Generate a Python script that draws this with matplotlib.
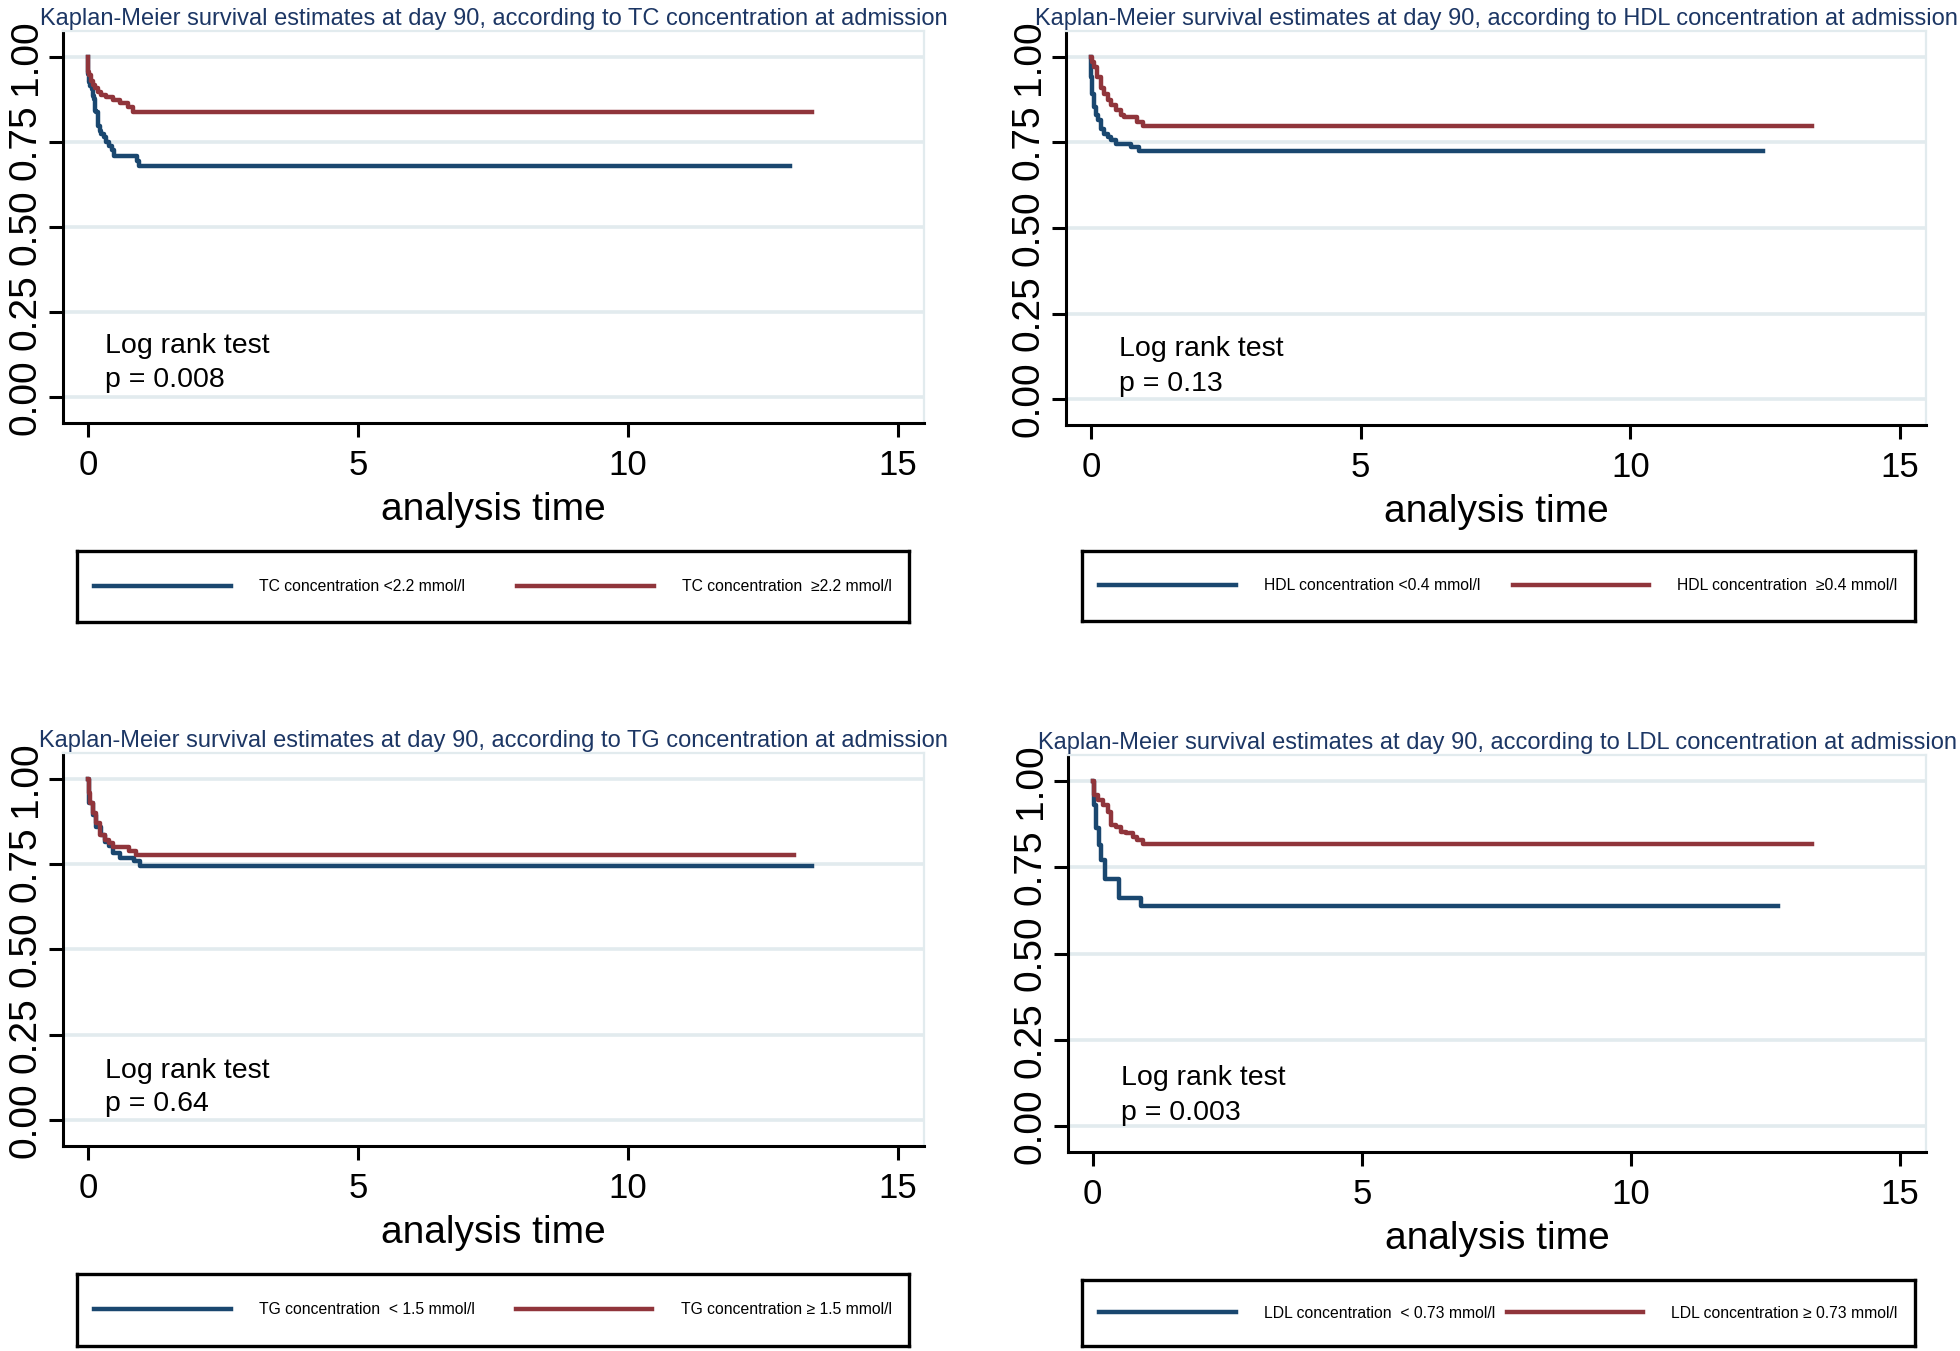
import matplotlib
matplotlib.use("Agg")
import matplotlib.pyplot as plt

plt.rcParams['font.family'] = ['Liberation Sans', 'DejaVu Sans']

navy = "#1a476f"
maroon = "#90353b"
grid_col = "#e2ebee"
title_col = "#1c3664"

# panel texts
titles = [
    "Kaplan-Meier survival estimates at day 90, according to TC concentration at admission",
    "Kaplan-Meier survival estimates at day 90, according to HDL concentration at admission",
    "Kaplan-Meier survival estimates at day 90, according to TG concentration at admission",
    "Kaplan-Meier survival estimates at day 90, according to LDL concentration at admission",
]
pvals = ["p = 0.008", "p = 0.13", "p = 0.64", "p = 0.003"]
labels_low = ["TC concentration <2.2 mmol/l", "HDL concentration <0.4 mmol/l",
              "TG concentration  < 1.5 mmol/l", "LDL concentration  < 0.73 mmol/l"]
labels_high = ["TC concentration  \u22652.2 mmol/l", "HDL concentration  \u22650.4 mmol/l",
               "TG concentration \u2265 1.5 mmol/l", "LDL concentration \u2265 0.73 mmol/l"]

# KM step curves (time, survival)
tc_low_t = [0, 0.005, 0.02, 0.04, 0.07, 0.09, 0.11, 0.14, 0.15, 0.19, 0.22, 0.25, 0.29, 0.34, 0.40, 0.45, 0.48, 0.91, 0.94, 13.0]
tc_low_s = [1.0, 0.95, 0.925, 0.913, 0.905, 0.886, 0.876, 0.842, 0.837, 0.798, 0.783, 0.774, 0.764, 0.749, 0.739, 0.725, 0.708, 0.693, 0.679, 0.679]
tc_high_t = [0, 0.01, 0.03, 0.06, 0.10, 0.14, 0.19, 0.25, 0.34, 0.46, 0.59, 0.74, 0.83, 13.4]
tc_high_s = [1.0, 0.955, 0.946, 0.93, 0.917, 0.908, 0.898, 0.888, 0.883, 0.874, 0.864, 0.854, 0.837, 0.837]

hdl_low_t = [0, 0.005, 0.012, 0.03, 0.06, 0.09, 0.135, 0.185, 0.25, 0.31, 0.37, 0.46, 0.74, 0.90, 12.45]
hdl_low_s = [1.0, 0.97, 0.942, 0.893, 0.854, 0.83, 0.815, 0.79, 0.776, 0.767, 0.757, 0.747, 0.737, 0.725, 0.725]
hdl_high_t = [0, 0.03, 0.06, 0.12, 0.185, 0.25, 0.31, 0.37, 0.46, 0.56, 0.62, 0.86, 0.96, 13.36]
hdl_high_s = [1.0, 0.985, 0.971, 0.942, 0.908, 0.893, 0.874, 0.859, 0.844, 0.83, 0.825, 0.81, 0.798, 0.798]

tg_low_t = [0, 0.03, 0.09, 0.15, 0.25, 0.31, 0.40, 0.46, 0.59, 0.86, 0.96, 13.4]
tg_low_s = [1.0, 0.929, 0.895, 0.86, 0.836, 0.816, 0.802, 0.782, 0.768, 0.758, 0.745, 0.745]
tg_high_t = [0, 0.02, 0.04, 0.09, 0.15, 0.22, 0.31, 0.40, 0.46, 0.77, 0.90, 13.07]
tg_high_s = [1.0, 0.958, 0.929, 0.90, 0.87, 0.836, 0.821, 0.811, 0.80, 0.79, 0.778, 0.778]

ldl_low_t = [0, 0.02, 0.06, 0.11, 0.15, 0.22, 0.49, 0.90, 12.73]
ldl_low_s = [1.0, 0.93, 0.863, 0.815, 0.772, 0.715, 0.662, 0.638, 0.638]
ldl_high_t = [0, 0.03, 0.09, 0.185, 0.28, 0.34, 0.43, 0.52, 0.62, 0.74, 0.83, 0.93, 13.36]
ldl_high_s = [1.0, 0.959, 0.944, 0.93, 0.911, 0.873, 0.868, 0.853, 0.849, 0.839, 0.83, 0.818, 0.818]

curves = [
    (tc_low_t, tc_low_s, tc_high_t, tc_high_s),
    (hdl_low_t, hdl_low_s, hdl_high_t, hdl_high_s),
    (tg_low_t, tg_low_s, tg_high_t, tg_high_s),
    (ldl_low_t, ldl_low_s, ldl_high_t, ldl_high_s),
]

W, H = 1960, 1351
def box(l, t, r, b):
    return [l / W, 1 - b / H, (r - l) / W, (b - t) / H]

# pixel boxes (left, top, right, bottom)
plot_boxes = [(63, 31, 924, 423), (1066, 31, 1926, 425), (63, 753, 924, 1146), (1068, 755, 1926, 1152)]
leg_boxes = [(77, 551, 909, 622), (1082, 551, 1915, 621), (77, 1274, 909, 1346), (1082, 1280, 1915, 1346)]
# log rank text positions (x, y line1, y line2) in data units
txt_pos = [(0.31, 0.149, 0.050), (0.52, 0.145, 0.043), (0.31, 0.143, 0.046), (0.52, 0.138, 0.037)]

fig = plt.figure(figsize=(19.6, 13.51), dpi=100)

for i in range(4):
    lt, ls, ht, hs = curves[i]
    ax = fig.add_axes(box(*plot_boxes[i]))
    l1, = ax.step(lt, ls, where='post', color=navy, lw=3.2, label=labels_low[i])
    l2, = ax.step(ht, hs, where='post', color=maroon, lw=3.2, label=labels_high[i])
    ax.set_xlim(-0.46, 15.48)
    ax.set_ylim(-0.076, 1.076)
    ax.set_xticks([0, 5, 10, 15])
    ax.set_yticks([0, 0.25, 0.5, 0.75, 1.0])
    ax.set_yticklabels(["0.00", "0.25", "0.50", "0.75", "1.00"])
    ax.grid(axis='y', color=grid_col, lw=2.6)
    ax.set_axisbelow(True)
    for s in ['left', 'bottom']:
        ax.spines[s].set_linewidth(2.2)
        ax.spines[s].set_color('black')
    for s in ['top', 'right']:
        ax.spines[s].set_linewidth(1.6)
        ax.spines[s].set_color(grid_col)
    ax.tick_params(direction='out', length=10, width=2.2)
    ax.tick_params(axis='x', labelsize=25, pad=9)
    ax.tick_params(axis='y', labelsize=28, labelrotation=90, pad=4)
    for lab in ax.get_yticklabels():
        lab.set_va('center')
    ax.set_xlabel("analysis time", fontsize=28, labelpad=7)
    ax.set_title(titles[i], fontsize=17, color=title_col, pad=4)
    x, y1, y2 = txt_pos[i]
    ax.text(x, y1, "Log rank test", fontsize=20.5, va='center', ha='left')
    ax.text(x, y2, pvals[i], fontsize=20.5, va='center', ha='left')

    # legend box under each panel
    lax = fig.add_axes(box(*leg_boxes[i]))
    lax.set_xticks([])
    lax.set_yticks([])
    for s in lax.spines.values():
        s.set_linewidth(2.4)
        s.set_color('black')
    lax.legend([l1, l2], [labels_low[i], labels_high[i]], loc='center', ncol=2,
               mode='expand', bbox_to_anchor=(0, 0, 1, 1), frameon=False,
               fontsize=11.3, handlelength=8.7, handletextpad=1.8,
               borderaxespad=0, borderpad=1.1)

fig.savefig("out.png", dpi=100)
